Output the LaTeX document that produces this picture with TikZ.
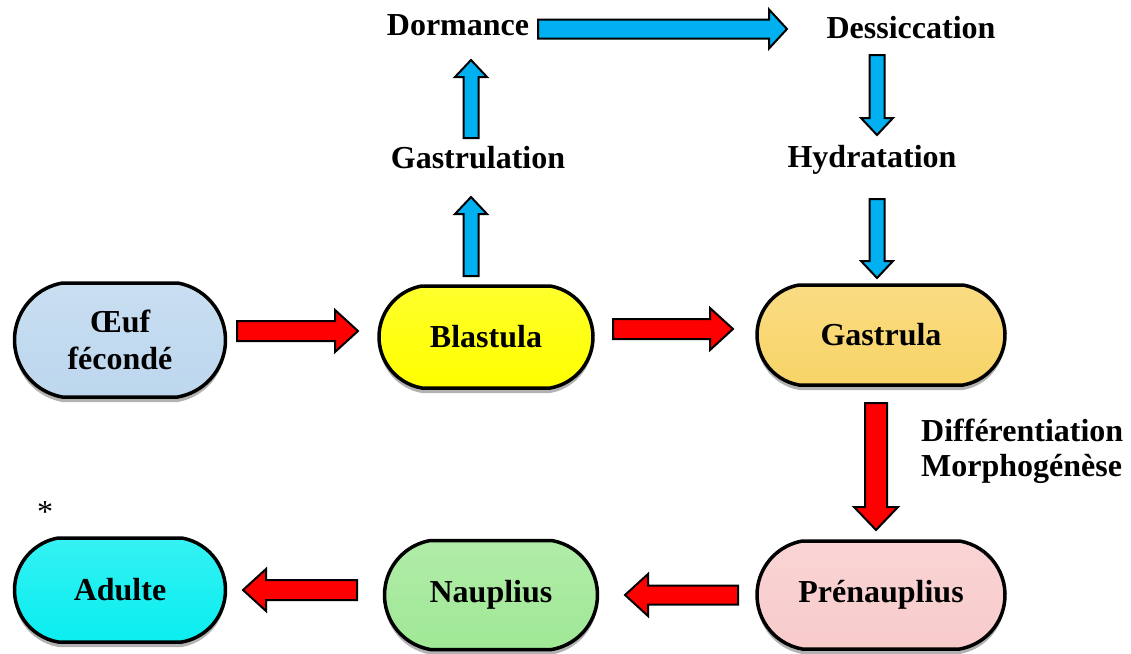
\documentclass[tikz,border=0pt]{standalone}
\usepackage{fontspec}
\setmainfont{Liberation Serif}
\usetikzlibrary{calc,shadows,shapes.misc}
\definecolor{coeuf}{RGB}{189,215,238}
\definecolor{cblast}{RGB}{255,255,0}
\definecolor{cgastr}{RGB}{248,212,104}
\definecolor{cpren}{RGB}{248,203,203}
\definecolor{cnaup}{RGB}{160,232,150}
\definecolor{cadul}{RGB}{10,238,240}
\definecolor{cred}{RGB}{255,0,0}
\definecolor{cblue}{RGB}{0,176,240}
\tikzset{
  stage/.style={rounded rectangle, rounded rectangle arc length=160, draw=black, line width=3.5pt,
    font=\fontsize{32}{37}\selectfont\bfseries, align=center, inner sep=0pt,
    top color=#1!82!white, bottom color=#1, middle color=#1!92!white,
    drop shadow={shadow xshift=0pt, shadow yshift=-5pt, opacity=0.3, fill=black}},
  lbl/.style={font=\fontsize{32}{35}\selectfont\bfseries, inner sep=0pt},
  barrowline/.style={draw=black, line width=2pt, line join=miter},
}
% #1 start, #2 end, #3 half shaft, #4 half head, #5 head length, #6 fill colour
\newcommand\blkarrow[6]{%
  \coordinate (bah) at ($(#2)!#5!(#1)$);
  \draw[barrowline, fill=#6]
    ($(#1)!#3!90:(#2)$) -- ($(bah)!#3!90:(#2)$) -- ($(bah)!#4!90:(#2)$) -- (#2)
    -- ($(bah)!#4!-90:(#2)$) -- ($(bah)!#3!-90:(#2)$) -- ($(#1)!#3!-90:(#2)$) -- cycle;
}
\begin{document}
\begin{tikzpicture}[x=1pt,y=-1pt]
\useasboundingbox (0,0) rectangle (1131,653);
% stages
\node[stage=coeuf, minimum width=211pt, minimum height=114pt] (oeuf) at (120,340) {Œuf\\fécondé};
\node[stage=cblast, minimum width=214pt, minimum height=102pt] (blastula) at (486,337) {Blastula};
\node[stage=cgastr, minimum width=248pt, minimum height=100pt] (gastrula) at (881,335) {Gastrula};
\node[stage=cadul, minimum width=211pt, minimum height=104pt] (adulte) at (120,590) {Adulte};
\node[stage=cnaup, minimum width=213pt, minimum height=109pt] (nauplius) at (491,595) {Nauplius};
\node[stage=cpren, minimum width=248pt, minimum height=108pt] (prenaup) at (881,595) {Prénauplius};
% labels
\node[lbl, anchor=base] (dormance) at (458,35) {Dormance};
\node[lbl, anchor=base] (dessic) at (911,38) {Dessiccation};
\node[lbl, anchor=base] (gastrulation) at (478,168) {Gastrulation};
\node[lbl, anchor=base] (hydrat) at (872,167) {Hydratation};
\node[lbl, anchor=west, align=left] (diff) at (921,451) {Différentiation\\Morphogénèse};
\node[font=\fontsize{32}{32}\selectfont, inner sep=0pt, anchor=base] (star) at (45,522) {*};
% arrow end points
\coordinate (r1s) at (237,331); \coordinate (r1e) at (358,331);
\coordinate (r2s) at (613,329); \coordinate (r2e) at (733,329);
\coordinate (r3s) at (876,403); \coordinate (r3e) at (876,530);
\coordinate (r4s) at (738,595); \coordinate (r4e) at (625,595);
\coordinate (r5s) at (357,590); \coordinate (r5e) at (243,590);
\coordinate (b1s) at (471,276); \coordinate (b1e) at (471,197);
\coordinate (b2s) at (471,138); \coordinate (b2e) at (471,60);
\coordinate (b3s) at (538,29);  \coordinate (b3e) at (787,29);
\coordinate (b4s) at (877,55);  \coordinate (b4e) at (877,135);
\coordinate (b5s) at (877,199); \coordinate (b5e) at (877,278);
% red arrows
\blkarrow{r1s}{r1e}{10pt}{21pt}{23pt}{cred}
\blkarrow{r2s}{r2e}{10pt}{21pt}{23pt}{cred}
\blkarrow{r3s}{r3e}{11pt}{22pt}{23pt}{cred}
\blkarrow{r4s}{r4e}{9.5pt}{21pt}{23pt}{cred}
\blkarrow{r5s}{r5e}{10pt}{21pt}{23pt}{cred}
% blue arrows
\blkarrow{b1s}{b1e}{7.5pt}{16pt}{17pt}{cblue}
\blkarrow{b2s}{b2e}{7.5pt}{16pt}{17pt}{cblue}
\blkarrow{b3s}{b3e}{9.5pt}{19.5pt}{18pt}{cblue}
\blkarrow{b4s}{b4e}{7.5pt}{16pt}{17pt}{cblue}
\blkarrow{b5s}{b5e}{7.5pt}{16pt}{17pt}{cblue}
\end{tikzpicture}
\end{document}
